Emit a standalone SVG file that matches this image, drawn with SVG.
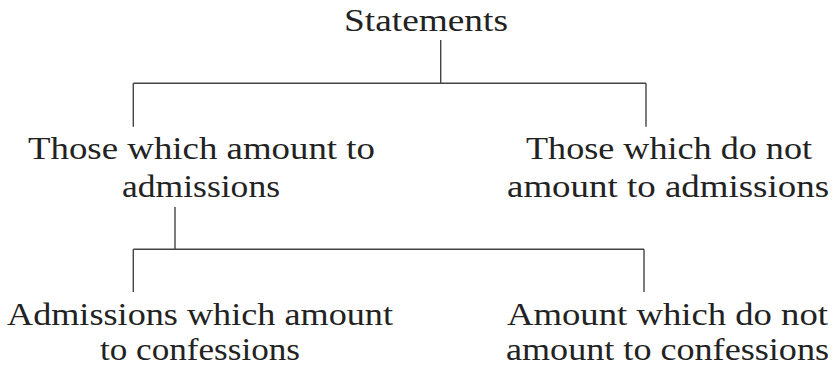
<svg xmlns="http://www.w3.org/2000/svg" width="834" height="367" viewBox="0 0 834 367">
<style>
text{font-family:"Liberation Serif","Times New Roman",serif;font-size:31px;fill:#222;}
.c line{stroke:#444;stroke-width:1.4;fill:none;}
</style>
<rect width="834" height="367" fill="#fff"/>
<g class="c" id="connectors">
<line x1="440.7" y1="40" x2="440.7" y2="83.3"/>
<line x1="133.3" y1="83.3" x2="646" y2="83.3"/>
<line x1="133.3" y1="83.3" x2="133.3" y2="126.7"/>
<line x1="646" y1="83.3" x2="646" y2="126.7"/>
<line x1="175" y1="207" x2="175" y2="249.3"/>
<line x1="133.3" y1="249.3" x2="644" y2="249.3"/>
<line x1="133.3" y1="249.3" x2="133.3" y2="292"/>
<line x1="644" y1="249.3" x2="644" y2="292"/>
</g>
<g id="n-statements"><text x="344" y="31" textLength="164" lengthAdjust="spacingAndGlyphs">Statements</text></g>
<g id="n-admissions">
<text x="28" y="159" textLength="347" lengthAdjust="spacingAndGlyphs">Those which amount to</text>
<text x="122" y="197" textLength="158" lengthAdjust="spacingAndGlyphs">admissions</text>
</g>
<g id="n-not-admissions">
<text x="526" y="159" textLength="286" lengthAdjust="spacingAndGlyphs">Those which do not</text>
<text x="507" y="197" textLength="322" lengthAdjust="spacingAndGlyphs">amount to admissions</text>
</g>
<g id="n-confessions">
<text x="7" y="325" textLength="386" lengthAdjust="spacingAndGlyphs">Admissions which amount</text>
<text x="100" y="360" textLength="200" lengthAdjust="spacingAndGlyphs">to confessions</text>
</g>
<g id="n-not-confessions">
<text x="507" y="325" textLength="321" lengthAdjust="spacingAndGlyphs">Amount which do not</text>
<text x="506" y="360" textLength="323" lengthAdjust="spacingAndGlyphs">amount to confessions</text>
</g>
</svg>
